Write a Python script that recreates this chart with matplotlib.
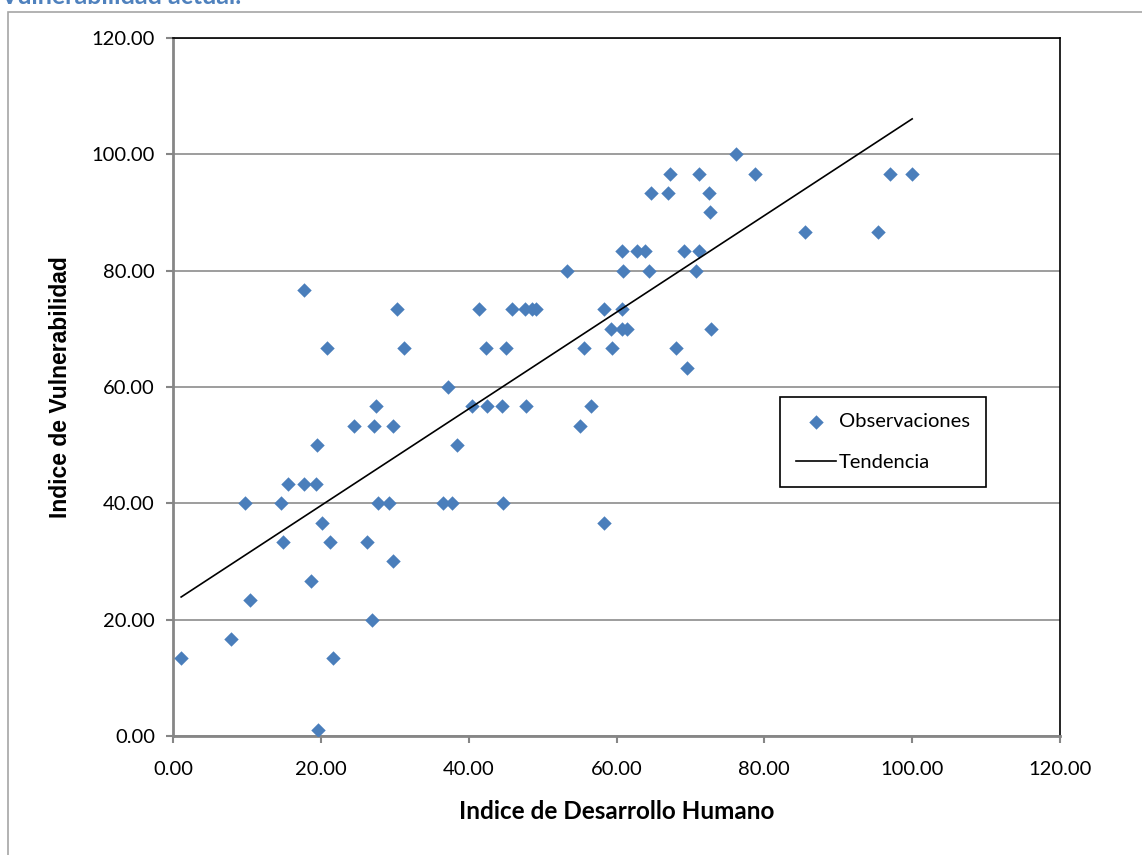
import numpy as np
import matplotlib.pyplot as plt
from matplotlib.patches import Rectangle

# Indice de Desarrollo Humano (x) vs Indice de Vulnerabilidad (y)
idh = [1.1, 7.9, 9.7, 10.4, 14.6, 14.9, 15.6, 17.7, 17.7, 18.7,
       19.4, 19.5, 19.6, 20.2, 20.8, 21.3, 21.6, 24.5, 26.3, 26.9,
       27.2, 27.5, 27.7, 29.2, 29.8, 29.8, 30.3, 31.3, 36.5, 37.2,
       37.7, 38.4, 40.5, 41.4, 42.4, 42.5, 44.5, 44.7, 45.1, 45.9,
       47.7, 47.6, 48.5, 49.1, 53.3, 55.1, 55.6, 56.6, 58.3, 58.3,
       59.3, 59.4, 60.7, 60.8, 60.8, 60.9, 61.4, 62.8, 63.9, 64.4,
       64.7, 66.9, 67.3, 68.0, 69.1, 69.5, 70.8, 71.2, 71.2, 72.5,
       72.7, 72.8, 76.1, 78.8, 85.5, 95.4, 97.0, 100.0]
ivu = [13.33, 16.67, 40.00, 23.33, 40.00, 33.33, 43.33, 43.33, 76.67, 26.67,
       43.33, 50.00, 1.00, 36.67, 66.67, 33.33, 13.33, 53.33, 33.33, 20.00,
       53.33, 56.67, 40.00, 40.00, 53.33, 30.00, 73.33, 66.67, 40.00, 60.00,
       40.00, 50.00, 56.67, 73.33, 66.67, 56.67, 56.67, 40.00, 66.67, 73.33,
       56.67, 73.33, 73.33, 73.33, 80.00, 53.33, 66.67, 56.67, 73.33, 36.67,
       70.00, 66.67, 73.33, 70.00, 83.33, 80.00, 70.00, 83.33, 83.33, 80.00,
       93.33, 93.33, 96.67, 66.67, 83.33, 63.33, 80.00, 96.67, 83.33, 93.33,
       90.00, 70.00, 100.00, 96.67, 86.67, 86.67, 96.67, 96.67]

ticks = [0, 20, 40, 60, 80, 100, 120]


def main():
    fig = plt.figure(figsize=(11.42, 8.55), dpi=100)
    ax = fig.add_axes([0.1515, 0.1392, 0.7767, 0.8164])

    # chart area border (gray), cut by the image edges
    fig.patches.append(Rectangle((7.5 / 1142, -0.1), 1.2, 1 - 12.5 / 855 + 0.1,
                                 transform=fig.transFigure, fill=False,
                                 edgecolor='#a6a6a6', linewidth=1.2))
    # title of the sheet, mostly hidden above the top edge as in the original
    fig.text(0.0, 1.0 - 4 / 855, 'Vulnerabilidad actual.', color='#4F81BD',
             fontsize=18, fontweight='bold', family='Lato', va='baseline')

    x = np.array(idh)
    y = np.array(ivu)
    slope, intercept = np.polyfit(x, y, 1)
    xt = np.array([x.min(), x.max()])

    ax.scatter(x, y, marker='D', s=54, color='#4A7EBB', linewidths=0,
               label='Observaciones', zorder=3)
    ax.plot(xt, intercept + slope * xt, color='black', linewidth=1.2,
            label='Tendencia', zorder=4)

    ax.set_xlim(0, 120)
    ax.set_ylim(0, 120)
    ax.set_xticks(ticks)
    ax.set_yticks(ticks)
    ax.set_xticklabels(['%.2f' % t for t in ticks], family='Lato', fontsize=14.5)
    ax.set_yticklabels(['%.2f' % t for t in ticks], family='Lato', fontsize=14.5)
    ax.tick_params(direction='out', length=5, width=1.5, color='#868686', pad=8)
    ax.tick_params(axis='x', pad=13)

    ax.yaxis.grid(True, color='#8c8c8c', linewidth=1.2)
    ax.set_axisbelow(True)
    for side in ['left', 'bottom']:
        ax.spines[side].set_color('#868686')
        ax.spines[side].set_linewidth(2)
    for side in ['top', 'right']:
        ax.spines[side].set_color('black')
        ax.spines[side].set_linewidth(1.2)

    ax.set_xlabel('Indice de Desarrollo Humano', family='Lato', fontweight='bold',
                  fontsize=17.5, labelpad=16)
    ax.set_ylabel('Indice de Vulnerabilidad', family='Liberation Sans',
                  fontweight='bold', fontsize=16.5, labelpad=14)

    leg = ax.legend(loc='upper left', bbox_to_anchor=(0.684, 0.4853),
                    fancybox=False, framealpha=1, edgecolor='black',
                    prop={'family': 'Lato', 'size': 14.5}, handlelength=2.0,
                    handletextpad=0.15, borderpad=0.8, labelspacing=1.15,
                    borderaxespad=0)
    leg.get_frame().set_linewidth(1.2)

    fig.savefig('out.png', dpi=100)


if __name__ == '__main__':
    main()
